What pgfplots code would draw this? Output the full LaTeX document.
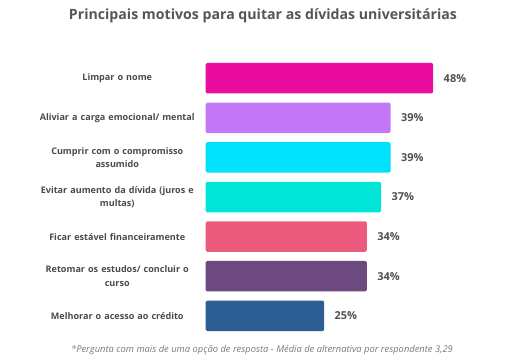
\documentclass[border=0pt]{standalone}
\usepackage{pgfplots}
\pgfplotsset{compat=1.18}
\usepackage{fontspec}
\setmainfont{Open Sans}
\definecolor{c1}{HTML}{E90C9E}
\definecolor{c2}{HTML}{C376F5}
\definecolor{c3}{HTML}{00E1FC}
\definecolor{c4}{HTML}{00E5D8}
\definecolor{c5}{HTML}{EC5A7E}
\definecolor{c6}{HTML}{6C4A80}
\definecolor{c7}{HTML}{2C5E94}
\definecolor{titlec}{HTML}{555555}
\definecolor{labc}{HTML}{4A4A4A}
\definecolor{valc}{HTML}{505050}
\definecolor{footc}{HTML}{7A7A7A}
\begin{document}
\begin{tikzpicture}[x=1bp,y=1bp]
\useasboundingbox (0,0) rectangle (512,359);
\node[font=\bfseries\fontsize{14.2}{16}\selectfont, text=titlec] at (263,343) {Principais motivos para quitar as dívidas universitárias};
\node[font=\itshape\fontsize{9.4}{11}\selectfont, text=footc] at (262,9) {*Pergunta com mais de uma opção de resposta - Média de alternativa por respondente 3,29};
\begin{axis}[
  at={(205.7bp,23.4bp)}, anchor=south west,
  scale only axis, width=284.4bp, height=277.2bp,
  xmin=0, xmax=60, ymin=0.5, ymax=7.5, y dir=reverse,
  xbar, bar width=30.5bp, bar shift=0pt,
  axis line style={draw=none},
  xtick=\empty, ytick={1,...,7},
  ytick style={draw=none},
  /pgf/number format/assume math mode=true,
  yticklabels={
    {Limpar o nome},
    {Aliviar a carga emocional/ mental},
    {Cumprir com o compromisso\\assumido},
    {Evitar aumento da dívida (juros e\\multas)},
    {Ficar estável financeiramente},
    {Retomar os estudos/ concluir o\\curso},
    {Melhorar o acesso ao crédito}},
  yticklabel style={text width=168bp, align=center, inner sep=0pt, xshift=0bp,
    font=\bfseries\fontsize{9.1}{13.3}\selectfont, text=labc},
  clip=false,
  nodes near coords={\pgfmathprintnumber{\pgfplotspointmeta}\%},
  nodes near coords align=horizontal,
  every node near coord/.append style={font=\bfseries\fontsize{11}{13}\selectfont, text=valc, xshift=7bp},
]
\addplot[fill=c1, draw=none, rounded corners=1.5bp] coordinates {(48,1)};
\addplot[fill=c2, draw=none, rounded corners=1.5bp] coordinates {(39,2)};
\addplot[fill=c3, draw=none, rounded corners=1.5bp] coordinates {(39,3)};
\addplot[fill=c4, draw=none, rounded corners=1.5bp] coordinates {(37,4)};
\addplot[fill=c5, draw=none, rounded corners=1.5bp] coordinates {(34,5)};
\addplot[fill=c6, draw=none, rounded corners=1.5bp] coordinates {(34,6)};
\addplot[fill=c7, draw=none, rounded corners=1.5bp] coordinates {(25,7)};
\end{axis}
\end{tikzpicture}
\end{document}
